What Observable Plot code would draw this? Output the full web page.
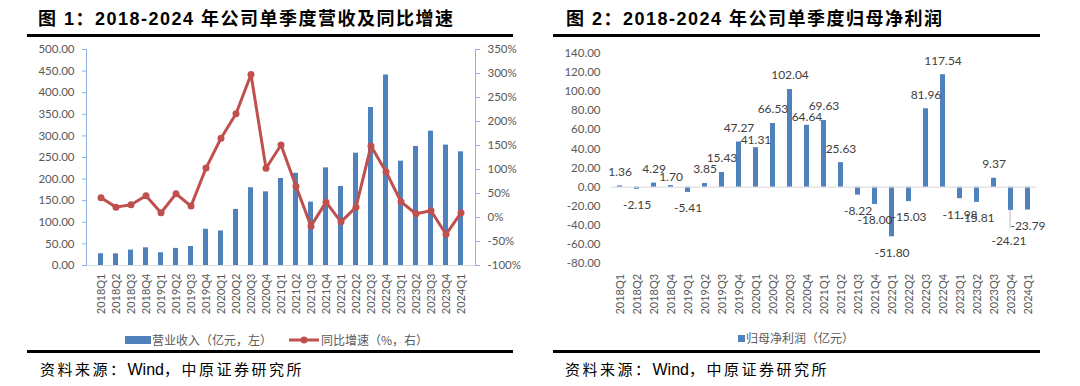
<!DOCTYPE html>
<html><head><meta charset="utf-8">
<script src="https://cdn.jsdelivr.net/npm/d3@7"></script>
<script src="https://cdn.jsdelivr.net/npm/@observablehq/plot@0.6"></script>
<style>
body{margin:0;background:#fff;}
#root{position:relative;width:1080px;height:386px;overflow:hidden;font-family:"Liberation Sans","Noto Sans CJK SC",sans-serif;}
.abs{position:absolute;}
.title{font-size:18px;font-weight:bold;letter-spacing:1.5px;line-height:22px;color:#000;white-space:nowrap;font-family:"Liberation Sans","Noto Sans CJK SC",sans-serif;}
.rule{background:#000;height:3px;}
.src{font-size:15px;letter-spacing:2.5px;line-height:20px;white-space:nowrap;color:#000;font-family:"Liberation Sans","Noto Sans CJK SC",sans-serif;}
.src .en{letter-spacing:0;font-size:16px;}
.leg{font-family:"Noto Sans CJK SC",sans-serif;font-size:12px;color:#595959;line-height:16px;white-space:nowrap;}
</style></head>
<body><div id="root">
  <div class="abs title" style="left:38px;top:8px;">图 1：2018-2024 年公司单季度营收及同比增速</div>
  <div class="abs rule" style="left:27px;top:34px;width:486px;"></div>
  <div class="abs title" style="left:566px;top:8px;">图 2：2018-2024 年公司单季度归母净利润</div>
  <div class="abs rule" style="left:553px;top:34px;width:487px;"></div>
  <div id="c1" class="abs" style="left:0;top:0;"></div>
  <div id="c2" class="abs" style="left:540px;top:0;"></div>
  <div class="abs" style="left:125px;top:336px;width:26px;height:8px;background:#4F81BD;"></div>
  <div class="abs leg" style="left:152px;top:332px;">营业收入（亿元，左）</div>
  <svg class="abs" style="left:288px;top:333px;" width="32" height="14"><line x1="1" y1="7" x2="31" y2="7" stroke="#C0504D" stroke-width="3"/><circle cx="16" cy="7" r="3.5" fill="#C0504D"/></svg>
  <div class="abs leg" style="left:321px;top:332px;">同比增速（%，右）</div>
  <div class="abs" style="left:738px;top:335px;width:7px;height:7px;background:#4F81BD;"></div>
  <div class="abs leg" style="left:746px;top:330px;">归母净利润（亿元）</div>
  <div class="abs rule" style="left:27px;top:350px;width:486px;"></div>
  <div class="abs rule" style="left:553px;top:350px;width:487px;"></div>
  <div class="abs src" style="left:40px;top:360px;">资料来源：<span class="en">Wind</span>，中原证券研究所</div>
  <div class="abs src" style="left:565px;top:360px;">资料来源：<span class="en">Wind</span>，中原证券研究所</div>
</div>
<script>
const quarters = ["2018Q1","2018Q2","2018Q3","2018Q4","2019Q1","2019Q2","2019Q3","2019Q4","2020Q1","2020Q2","2020Q3","2020Q4","2021Q1","2021Q2","2021Q3","2021Q4","2022Q1","2022Q2","2022Q3","2022Q4","2023Q1","2023Q2","2023Q3","2023Q4","2024Q1"];
const revenue = [27.2,27.0,35.7,41.0,29.5,39.6,44.0,83.9,80.0,129.7,180.0,170.5,201.5,213.5,146.7,226.0,183.0,260.0,365.7,441.0,241.5,275.6,311.0,278.7,263.2];
const yoyGrowth = [41,21.6,26.5,45.3,9.8,49.5,23.7,103,165,216,298,102.5,151,65,-18,32,-9,21.6,149,95.5,32.8,7.7,14,-35,9.8];
const netProfit = [1.36,-2.15,4.29,1.70,-5.41,3.85,15.43,47.27,41.31,66.53,102.04,64.64,69.63,25.63,-8.22,-18.00,-51.80,-15.03,81.96,117.54,-11.98,-15.81,9.37,-24.21,-23.79];
const revTicks = [0,50,100,150,200,250,300,350,400,450,500];
const yoyTicks = [-100,-50,0,50,100,150,200,250,300,350];
const npTicks = [-80,-60,-40,-20,0,20,40,60,80,100,120,140];

const blue = "#4F81BD", red = "#C0504D", gray = "#595959", axisBlue = "#8EB4E3";
const toLeft = p => (p + 100) * 500 / 450;
const fromLeft = v => v * 450 / 500 - 100;

const d1 = quarters.map((q, i) => ({q, rev: revenue[i], yoy: yoyGrowth[i]}));
const d2 = quarters.map((q, i) => ({q, np: netProfit[i]}));

const baseStyle = {fontFamily: "Lato, 'Liberation Sans', sans-serif", fontSize: "11px", color: gray, background: "transparent", overflow: "visible"};

const c1 = Plot.plot({
  width: 540, height: 320,
  marginTop: 49, marginBottom: 55, marginLeft: 86, marginRight: 65,
  style: baseStyle,
  x: {domain: quarters, paddingInner: 0.68, paddingOuter: 0.34, axis: null},
  y: {domain: [0, 500], axis: null},
  marks: [
    Plot.barY(d1, {x: "q", y: "rev", fill: blue}),
    Plot.ruleY([0], {stroke: "#D9D9D9"}),
    Plot.frame({anchor: "left", stroke: axisBlue}),
    Plot.frame({anchor: "right", stroke: axisBlue}),
    Plot.line(d1, {x: "q", y: d => toLeft(d.yoy), stroke: red, strokeWidth: 3}),
    Plot.dot(d1, {x: "q", y: d => toLeft(d.yoy), r: 3.5, fill: red}),
    Plot.axisY({ticks: revTicks, tickFormat: d => d.toFixed(2), tickSize: 4, tickPadding: 8, stroke: axisBlue, fill: gray, label: null, fontSize: 11.5}),
    Plot.axisY({anchor: "right", ticks: yoyTicks.map(toLeft), tickFormat: v => Math.round(fromLeft(v)) + "%", tickSize: 4, tickPadding: 8, stroke: axisBlue, fill: gray, label: null, fontSize: 11.5}),
    Plot.axisX({tickRotate: -90, tickSize: 0, tickPadding: 8, fill: gray, label: null, fontSize: 11})
  ]
});
document.getElementById("c1").appendChild(c1);

const special = new Set([3, 8, 11]);
const c2 = Plot.plot({
  width: 540, height: 320,
  marginTop: 52.7, marginBottom: 56.7, marginLeft: 71, marginRight: 44,
  style: baseStyle,
  x: {domain: quarters, paddingInner: 0.7, paddingOuter: 0.35, axis: null},
  y: {domain: [-80, 140], axis: null},
  marks: [
    Plot.barY(d2, {x: "q", y: "np", fill: blue}),
    Plot.ruleY([0], {stroke: "#D9D9D9"}),
    Plot.ruleX(d2.filter((d, i) => i === 23), {x: "q", y1: "np", y2: d => d.np - 19, stroke: "#A6A6A6", strokeWidth: 0.8, dx: -1}),
    Plot.text(d2.filter((d, i) => d.np >= 0 && !special.has(i)), {x: "q", y: "np", text: d => d.np.toFixed(2), dy: -14, fill: "#404040", fontSize: 12}),
    Plot.text(d2.filter((d, i) => special.has(i)), {x: "q", y: "np", text: d => d.np.toFixed(2), dy: -8, fill: "#404040", fontSize: 12}),
    Plot.text(d2.filter((d, i) => d.np < 0 && i !== 23), {x: "q", y: "np", text: d => d.np.toFixed(2), dy: 16, fill: "#404040", fontSize: 12}),
    Plot.text(d2.filter((d, i) => i === 23), {x: "q", y: "np", text: d => d.np.toFixed(2), dy: 31, dx: -2, fill: "#404040", fontSize: 12}),
    Plot.axisY({ticks: npTicks, tickFormat: d => d.toFixed(2), tickSize: 0, tickPadding: 11, fill: gray, label: null, fontSize: 11.5}),
    Plot.axisX({tickRotate: -90, tickSize: 0, tickPadding: 10, fill: gray, label: null, fontSize: 11})
  ]
});
document.getElementById("c2").appendChild(c2);
</script>
</body></html>
